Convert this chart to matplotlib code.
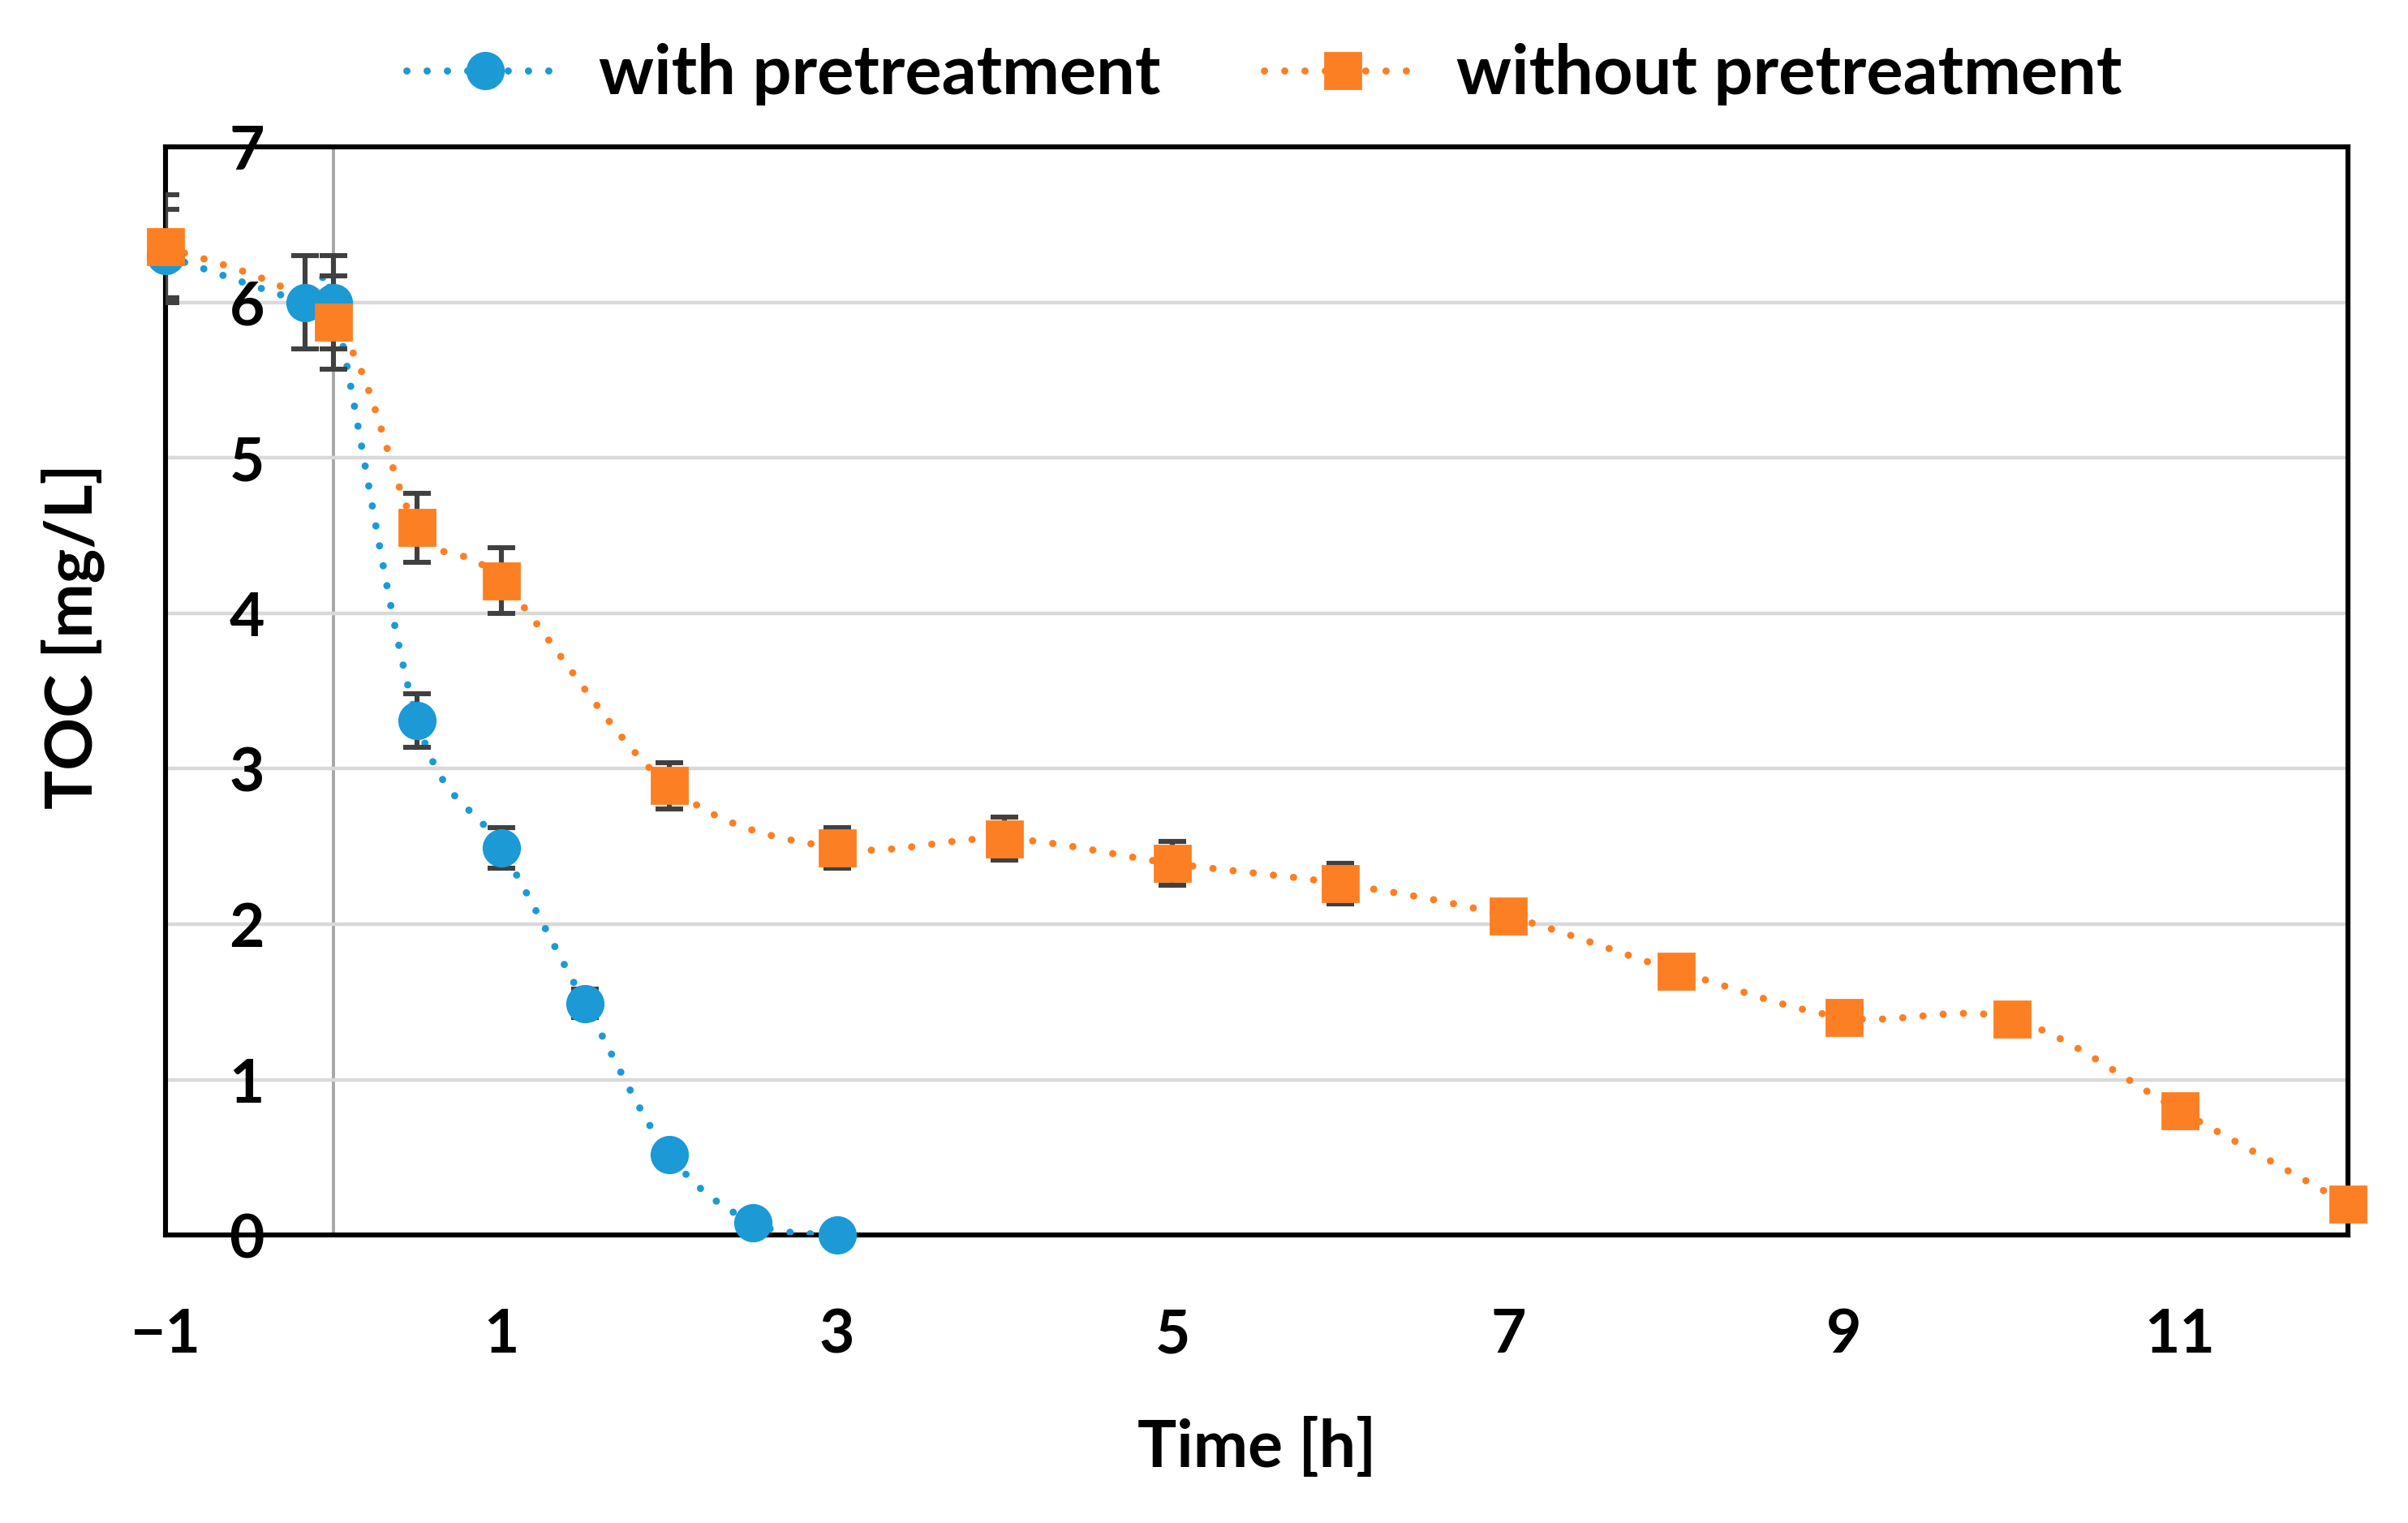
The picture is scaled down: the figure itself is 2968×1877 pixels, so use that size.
import numpy as np
import matplotlib
matplotlib.use("Agg")
import matplotlib.pyplot as plt
from matplotlib.lines import Line2D

plt.rcParams['font.family'] = ['Lato', 'DejaVu Sans']
plt.rcParams['font.weight'] = 'bold'

# data
t_with = [-1, -0.17, 0, 0.5, 1, 1.5, 2, 2.5, 3]
toc_with = [6.3, 6.0, 6.0, 3.31, 2.49, 1.49, 0.52, 0.08, 0.0]
err_with = [0.3, 0.3, 0.3, 0.17, 0.13, 0.09, 0.03, 0.02, 0.02]

t_without = [-1, 0, 0.5, 1, 2, 3, 4, 5, 6, 7, 8, 9, 10, 11, 12]
toc_without = [6.36, 5.87, 4.55, 4.21, 2.89, 2.49, 2.55, 2.39, 2.26, 2.05, 1.7, 1.4, 1.39, 0.8, 0.2]
err_without = [0.33, 0.3, 0.22, 0.21, 0.15, 0.13, 0.14, 0.14, 0.13, 0.1, 0.08, 0.06, 0.06, 0.05, 0.04]

blue = "#1b9ad6"
orange = "#fd7f23"
errc = "#404040"


def smooth(x, y, n=40):
    # Excel-like smoothed line (Catmull-Rom bezier)
    pts = np.column_stack([x, y]).astype(float)
    P = np.vstack([pts[0], pts, pts[-1]])
    tt = np.linspace(0, 1, n)[:, None]
    out = []
    for i in range(1, len(P) - 2):
        p0, p1, p2, p3 = P[i - 1], P[i], P[i + 1], P[i + 2]
        c1 = p1 + (p2 - p0) / 6
        c2 = p2 - (p3 - p1) / 6
        seg = (1 - tt) ** 3 * p1 + 3 * (1 - tt) ** 2 * tt * c1 + 3 * (1 - tt) * tt ** 2 * c2 + tt ** 3 * p2
        out.append(seg if i == 1 else seg[1:])
    s = np.vstack(out)
    return s[:, 0], np.clip(s[:, 1], 0, None)


fig = plt.figure(figsize=(14.84, 9.385), dpi=200)
ax = fig.add_axes([0.0687, 0.189, 0.9063, 0.7146])

ax.set_xlim(-1, 12)
ax.set_ylim(0, 7)
ax.set_xticks([-1, 1, 3, 5, 7, 9, 11])
ax.set_yticks(range(0, 8))
ax.grid(axis='y', color='#d9d9d9', lw=1.6, zorder=0)
ax.axvline(0, color='#a6a6a6', lw=1.4, zorder=1)
for sp in ax.spines.values():
    sp.set_linewidth(2.2)
    sp.set_color('black')
ax.tick_params(axis='both', length=0, labelsize=27)
ax.tick_params(axis='y', pad=-44)
ax.tick_params(axis='x', pad=32)
for lab in ax.get_yticklabels():
    lab.set_horizontalalignment('right')

dots = dict(ls=(0, (0.01, 2.8)), lw=3.2, dash_capstyle='round')

xs, ys = smooth(t_with, toc_with)
ax.plot(xs, ys, color=blue, zorder=3, **dots)
xs, ys = smooth(t_without, toc_without)
ax.plot(xs, ys, color=orange, zorder=3, **dots)

ax.errorbar(t_with, toc_with, yerr=err_with, fmt='none', ecolor=errc,
            elinewidth=2.2, capsize=6, capthick=2.2, zorder=4)
ax.errorbar(t_without, toc_without, yerr=err_without, fmt='none', ecolor=errc,
            elinewidth=2.2, capsize=6, capthick=2.2, zorder=4)

ax.plot(t_with, toc_with, 'o', color=blue, ms=16, mec=blue, zorder=5, clip_on=False)
ax.plot(t_without, toc_without, 's', color=orange, ms=15.5, mec=orange, zorder=6, clip_on=False)

ax.set_xlabel("Time [h]", fontsize=29, fontweight='bold', labelpad=24)
ax.set_ylabel("TOC [mg/L]", fontsize=29, fontweight='bold')
ax.yaxis.set_label_coords(-0.028, 0.55)

handles = [
    Line2D([], [], color=blue, marker='o', ms=16, **dots),
    Line2D([], [], color=orange, marker='s', ms=15.5, **dots),
]
fig.legend(handles, ["with pretreatment", "without pretreatment"], loc='center',
           bbox_to_anchor=(0.525, 0.951), ncol=2, frameon=False, fontsize=30.5,
           handlelength=2.3, handletextpad=0.5, columnspacing=1.5)

fig.savefig("out.png", dpi=200)
